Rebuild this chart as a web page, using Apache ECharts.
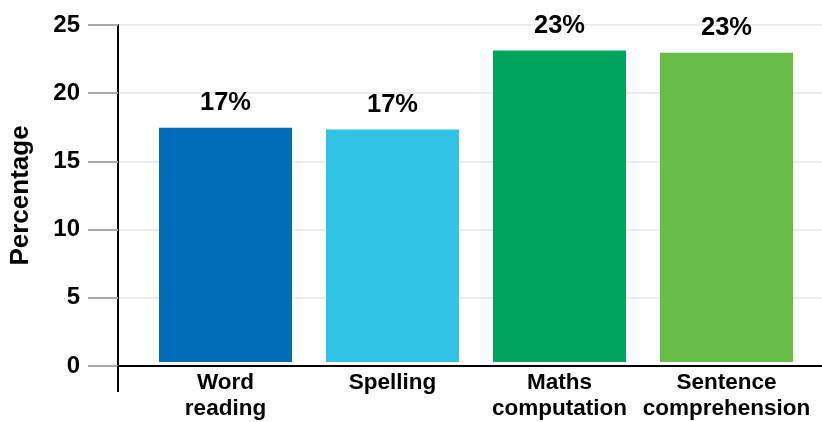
<!DOCTYPE html>
<html><head><meta charset="utf-8">
<script src="https://cdn.jsdelivr.net/npm/echarts@6/dist/echarts.min.js"></script>
<style>html,body{margin:0;padding:0;background:#fff}#c{width:822px;height:422px}</style>
</head><body><div id="c"></div>
<script>
const categories = ['Word\nreading', 'Spelling', 'Maths\ncomputation', 'Sentence\ncomprehension'];
const values = [17.38, 17.24, 23.1, 22.95];
const barColors = ['#006db6', '#31c3e5', '#00a45c', '#68bd48'];
const yTicks = [0, 5, 10, 15, 20, 25];
const yTitle = 'Percentage';

const FONT = '"Liberation Sans", Arial, Helvetica, sans-serif';
const chart = echarts.init(document.getElementById('c'), null, {renderer: 'canvas'});
chart.setOption({
  animation: false,
  grid: [
    {left: 118, right: -2, top: 25, bottom: 56},
    {left: 142, right: 12, top: 25, bottom: 56}
  ],
  xAxis: [
    {gridIndex: 0, type: 'value', min: 0, max: 1,
     axisLine: {show: true, lineStyle: {color: '#000', width: 2}},
     axisTick: {show: true, customValues: [0], length: 26, lineStyle: {color: '#000', width: 2}},
     axisLabel: {show: false}, splitLine: {show: false}},
    {gridIndex: 1, type: 'category', data: categories,
     axisLine: {show: false}, axisTick: {show: false},
     axisLabel: {margin: 8, color: '#000', fontFamily: FONT, fontWeight: 'bold', fontSize: 22.5, lineHeight: 26, interval: 0}}
  ],
  yAxis: [
    {gridIndex: 0, type: 'value', min: yTicks[0], max: yTicks[yTicks.length - 1], interval: 5,
     name: yTitle, nameLocation: 'middle', nameGap: 84,
     nameTextStyle: {color: '#000', fontFamily: FONT, fontWeight: 'bold', fontSize: 26},
     axisLine: {show: true, lineStyle: {color: '#000', width: 2}},
     axisTick: {show: true, length: 30, lineStyle: {color: '#aaa', width: 2}},
     axisLabel: {margin: 38, color: '#000', fontFamily: FONT, fontWeight: 'bold', fontSize: 24},
     splitLine: {show: true, lineStyle: {color: '#ececec', width: 2}}},
    {gridIndex: 0, type: 'value', min: yTicks[0], max: yTicks[yTicks.length - 1],
     axisLine: {show: false},
     axisTick: {show: true, customValues: [0], length: 30, lineStyle: {color: '#000', width: 2}},
     axisLabel: {show: false}, splitLine: {show: false}},
    {gridIndex: 1, type: 'value', min: yTicks[0], max: yTicks[yTicks.length - 1], show: false}
  ],
  series: [{
    type: 'bar', xAxisIndex: 1, yAxisIndex: 2,
    barWidth: 133,
    data: values.map((v, i) => ({value: v, itemStyle: {color: barColors[i]}})),
    label: {show: true, position: 'top', distance: 12, color: '#000',
      fontFamily: FONT, fontWeight: 'bold', fontSize: 25.5,
      formatter: p => Math.round(p.value) + '%'}
  }]
});
</script></body></html>
